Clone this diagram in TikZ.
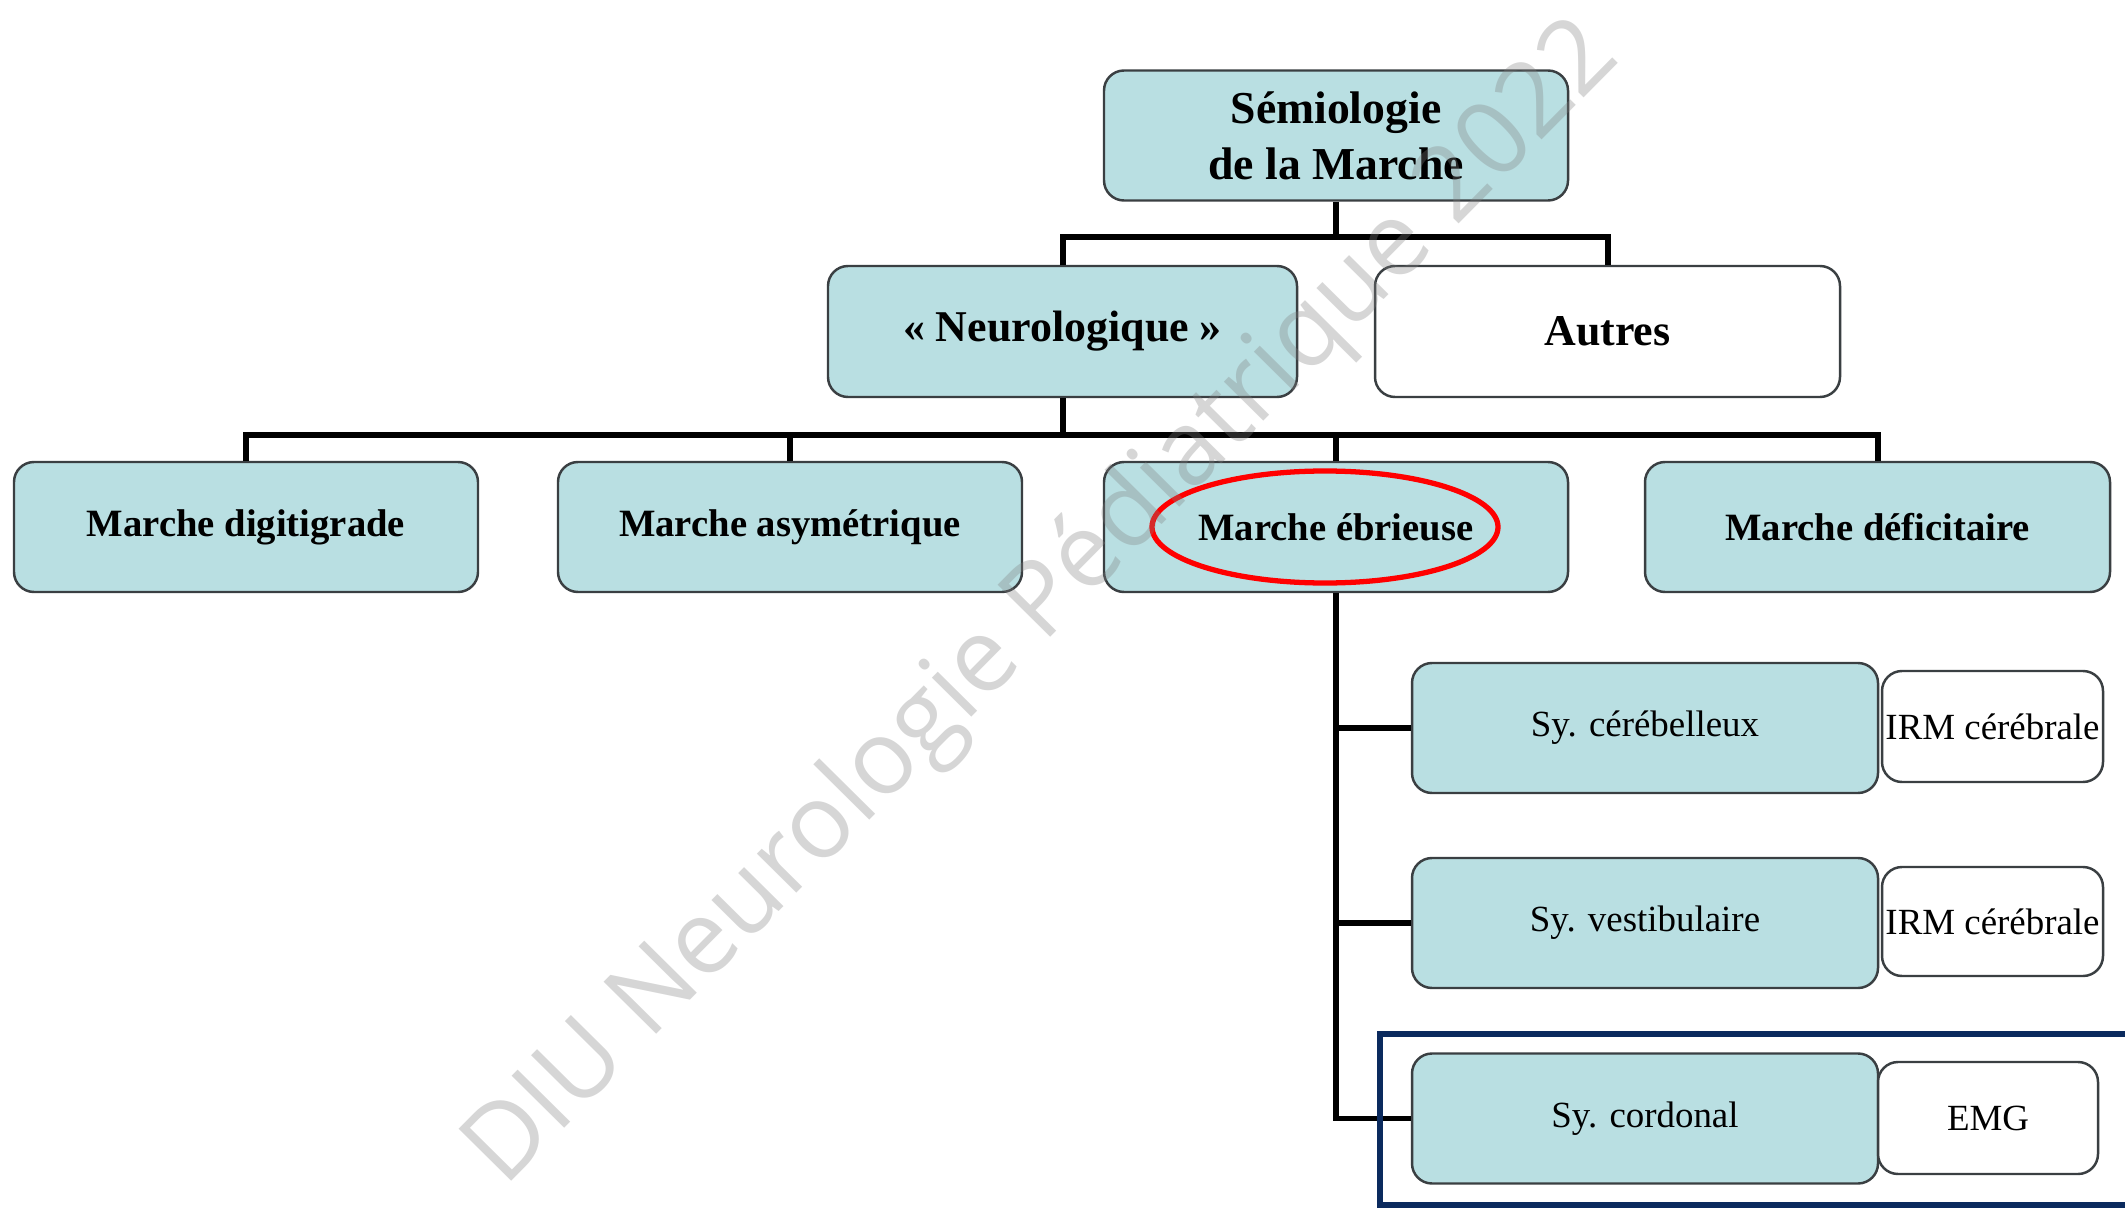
\documentclass[tikz,border=0pt]{standalone}
\usepackage{fontspec}
\setmainfont{Liberation Serif}
\newfontfamily\wmfont{Open Sans}
\usetikzlibrary{shapes.geometric}
\definecolor{boxfill}{HTML}{B9DFE2}
\definecolor{boxline}{HTML}{3A3F42}
\definecolor{navy}{HTML}{0B2A5E}
\tikzset{
  base/.style={draw=boxline, line width=0.7pt, rounded corners=0.2cm, align=center,
               inner sep=0pt, minimum height=1.30cm},
  tealbox/.style={base, fill=boxfill},
  whitebox/.style={base, fill=white},
  headfont/.style={font=\bfseries\fontsize{13}{16}\selectfont},
  midfont/.style={font=\bfseries\fontsize{12.5}{15}\selectfont},
  lvlfont/.style={font=\bfseries\fontsize{11}{13}\selectfont},
  subfont/.style={font=\fontsize{10.5}{12}\selectfont},
  link/.style={draw=black, line width=1.7pt},
}
\begin{document}
\begin{tikzpicture}
\useasboundingbox (0,0) rectangle (21.25,-12.10);

% root
\node[tealbox, headfont, minimum width=4.64cm] (root) at (13.36,-1.355) {S\'emiologie\\de la Marche};

% first level
\node[tealbox, midfont, minimum width=4.69cm, minimum height=1.31cm] (neuro) at (10.625,-3.315) {« Neurologique »};
\node[whitebox, midfont, minimum width=4.65cm, minimum height=1.31cm] (autres) at (16.075,-3.315) {Autres};

% second level
\node[tealbox, lvlfont, minimum width=4.64cm] (dig) at (2.46,-5.27) {Marche digitigrade};
\node[tealbox, lvlfont, minimum width=4.64cm] (asy) at (7.90,-5.27) {Marche asym\'etrique};
\node[tealbox, lvlfont, minimum width=4.64cm] (ebr) at (13.36,-5.27) {Marche \'ebrieuse};
\node[tealbox, lvlfont, minimum width=4.65cm] (def) at (18.775,-5.27) {Marche d\'eficitaire};

% syndromes
\node[tealbox, subfont, minimum width=4.66cm] (cer) at (16.45,-7.28) {Sy. c\'er\'ebelleux};
\node[tealbox, subfont, minimum width=4.66cm] (ves) at (16.45,-9.23) {Sy. vestibulaire};
\node[tealbox, subfont, minimum width=4.66cm] (cor) at (16.45,-11.185) {Sy. cordonal};

% examinations
\node[whitebox, subfont, minimum width=2.21cm, minimum height=1.11cm] (irm1) at (19.925,-7.265) {IRM c\'er\'ebrale};
\node[whitebox, subfont, minimum width=2.21cm, minimum height=1.09cm] (irm2) at (19.925,-9.215) {IRM c\'er\'ebrale};
\node[whitebox, subfont, minimum width=2.20cm, minimum height=1.12cm] (emg) at (19.88,-11.18) {EMG};

% bus lines
\coordinate (bar1) at (0,-2.37);
\coordinate (bar2) at (0,-4.35);

\draw[link] (root.south) -- (root.south|-bar1);
\draw[link] (neuro.north) |- (autres.north|-bar1) -- (autres.north);

\draw[link] (neuro.south) -- (neuro.south|-bar2);
\draw[link] (dig.north) |- (def.north|-bar2) -- (def.north);
\draw[link] (asy.north) -- (asy.north|-bar2);
\draw[link] (ebr.north) -- (ebr.north|-bar2);

\draw[link] (ebr.south) |- (cor.west);
\draw[link] (ebr.south|-cer.west) -- (cer.west);
\draw[link] (ebr.south|-ves.west) -- (ves.west);

% highlights
\node[draw=red, line width=1.5pt, ellipse, minimum width=3.46cm, minimum height=1.12cm, inner sep=0pt] (hl) at (13.25,-5.27) {};
\draw[navy, line width=1.6pt] (13.80,-10.34) rectangle (21.40,-12.05);

% watermark
\node[text=gray, opacity=0.32, rotate=45.3, font=\wmfont\fontsize{29.5}{36}\selectfont] (wm) at (10.44,-6.05) {DIU Neurologie P\'ediatrique 2022};
\end{tikzpicture}
\end{document}
